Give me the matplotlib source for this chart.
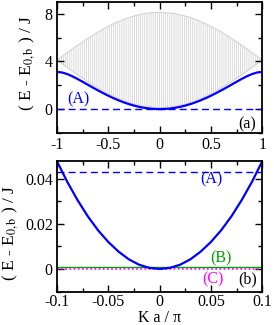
import matplotlib
matplotlib.use("Agg")
import matplotlib.pyplot as plt
import numpy as np

# K a / pi grid, top panel (-1 .. 1) and bottom panel (-0.1 .. 0.1)
k_top = np.round(np.arange(-20, 21) * 0.05, 2)
k_bot = np.round(np.arange(-10, 11) * 0.01, 2)

# bound state dispersion, top panel
bound_top = [3.123, 3.075, 2.944, 2.755, 2.533, 2.295, 2.050, 1.806, 1.568, 1.340,
             1.123, 0.921, 0.736, 0.569, 0.421, 0.295, 0.190, 0.107, 0.048, 0.012,
             0.0,
             0.012, 0.048, 0.107, 0.190, 0.295, 0.421, 0.569, 0.736, 0.921, 1.123,
             1.340, 1.568, 1.806, 2.050, 2.295, 2.533, 2.755, 2.944, 3.075, 3.123]

# scattering continuum edges
cont_low = [4.123, 3.809, 3.497, 3.189, 2.887, 2.592, 2.307, 2.033, 1.772, 1.525,
            1.295, 1.081, 0.887, 0.713, 0.559, 0.428, 0.319, 0.234, 0.172, 0.135,
            0.123,
            0.135, 0.172, 0.234, 0.319, 0.428, 0.559, 0.713, 0.887, 1.081, 1.295,
            1.525, 1.772, 2.033, 2.307, 2.592, 2.887, 3.189, 3.497, 3.809, 4.123]
cont_high = [4.123, 4.437, 4.749, 5.057, 5.359, 5.654, 5.939, 6.213, 6.474, 6.721,
             6.951, 7.165, 7.359, 7.534, 7.687, 7.818, 7.927, 8.013, 8.074, 8.111,
             8.123,
             8.111, 8.074, 8.013, 7.927, 7.818, 7.687, 7.534, 7.359, 7.165, 6.951,
             6.721, 6.474, 6.213, 5.939, 5.654, 5.359, 5.057, 4.749, 4.437, 4.123]

# bound state, zoomed
bound_bot = [0.0478, 0.0387, 0.0306, 0.0234, 0.0172, 0.0120, 0.0077, 0.0043, 0.0019, 0.0005,
             0.0,
             0.0005, 0.0019, 0.0043, 0.0077, 0.0120, 0.0172, 0.0234, 0.0306, 0.0387, 0.0478]

# flat levels (A), (B), (C)
level_a = 0.043
level_b = 0.001
level_c = 0.0

plt.rcParams['font.family'] = ['Liberation Serif', 'DejaVu Serif']
plt.rcParams['mathtext.fontset'] = 'stix'
plt.rcParams['font.size'] = 11.5
plt.rcParams['hatch.linewidth'] = 0.6

blue = '#0000ff'
green = '#00a000'
magenta = '#ff00ff'
ylab = '( E - E$_{\\mathrm{0,b}}$ ) / J'

fig = plt.figure(figsize=(2.74, 3.25), dpi=100)
ax1 = fig.add_axes([0.208, 0.591, 0.749, 0.403])
ax2 = fig.add_axes([0.208, 0.103, 0.749, 0.402])

# top panel
ax1.fill_between(k_top, cont_low, cont_high, facecolor='white',
                 edgecolor='#d4d4d4', hatch='|' * 8, linewidth=0.8)
ax1.plot(k_top, [level_a] * len(k_top), color=blue, lw=1.0, ls=(0, (5, 3)))
ax1.plot(k_top, bound_top, color=blue, lw=1.6)
ax1.set_xlim(-1, 1)
ax1.set_ylim(-2, 9)
ax1.set_xticks([-1, -0.5, 0, 0.5, 1])
ax1.set_xticklabels(['-1', '-0.5', '0', '0.5', '1'])
ax1.set_xticks([-0.75, -0.25, 0.25, 0.75], minor=True)
ax1.set_yticks([0, 4, 8])
ax1.set_yticks([-2, 2, 6], minor=True)
ax1.set_ylabel(ylab, fontsize=12.5)
ax1.yaxis.set_label_coords(-0.095, 0.53)
ax1.text(-0.79, 0.8, '(A)', color=blue, ha='center', va='center')
ax1.text(0.85, -1.25, '(a)', ha='center', va='center')

# bottom panel
ax2.plot(k_bot, [level_a] * len(k_bot), color=blue, lw=1.0, ls=(0, (5, 3)))
ax2.plot(k_bot, [level_b] * len(k_bot), color=green, lw=1.0)
ax2.plot(k_bot, [level_c] * len(k_bot), color=magenta, lw=1.2, ls=(0, (1, 1.5)))
ax2.plot(k_bot, bound_bot, color=blue, lw=1.6)
ax2.set_xlim(-0.1, 0.1)
ax2.set_ylim(-0.0095, 0.048)
ax2.set_xticks([-0.1, -0.05, 0, 0.05, 0.1])
ax2.set_xticklabels(['-0.1', '-0.05', '0', '0.05', '0.1'])
ax2.set_xticks([-0.075, -0.025, 0.025, 0.075], minor=True)
ax2.set_yticks([0, 0.02, 0.04])
ax2.set_yticklabels(['0', '0.02', '0.04'])
ax2.set_yticks([-0.01, 0.01, 0.03], minor=True)
ax2.set_ylabel(ylab, fontsize=12.5)
ax2.yaxis.set_label_coords(-0.178, 0.45)
ax2.set_xlabel('K a / π', fontsize=11.5, labelpad=0)
ax2.text(0.050, 0.0397, '(A)', color=blue, ha='center', va='center')
ax2.text(0.060, 0.0047, '(B)', color=green, ha='center', va='center')
ax2.text(0.052, -0.0045, '(C)', color=magenta, ha='center', va='center')
ax2.text(0.0854, -0.0048, '(b)', ha='center', va='center')

for ax in (ax1, ax2):
    for sp in ax.spines.values():
        sp.set_linewidth(1.3)
    ax.tick_params(which='both', direction='in', top=True, right=True, width=1.0)
    ax.tick_params(which='major', length=5, pad=3)
    ax.tick_params(which='minor', length=3)
ax2.tick_params(axis='x', which='major', pad=2)

fig.savefig('out.png', dpi=100)
